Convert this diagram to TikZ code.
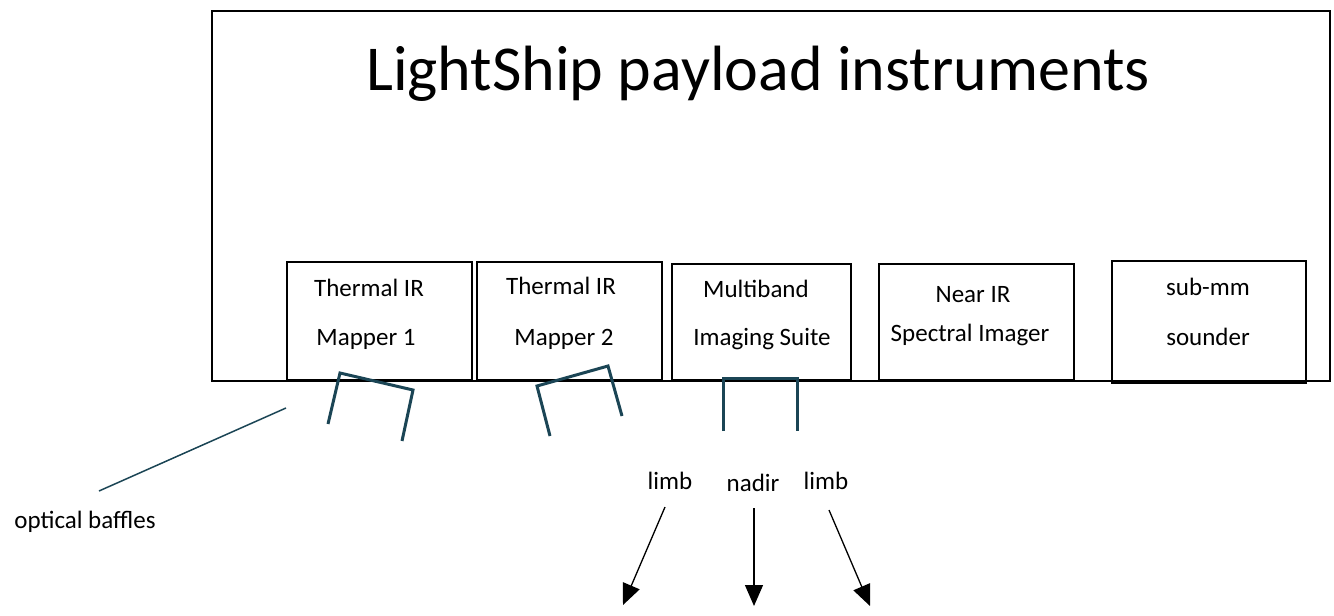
\documentclass[tikz,border=0pt]{standalone}
\usepackage{fontspec}
\setmainfont{Carlito}
\usetikzlibrary{arrows.meta}
\definecolor{baffle}{HTML}{1B4555}
\tikzset{
  inst/.style={draw=black, line width=1.8pt, anchor=north west, inner sep=0pt},
  boxtxt/.style={anchor=base, inner sep=0pt, font=\fontsize{25}{30}\selectfont},
  bafflepath/.style={draw=baffle, line width=3pt, line join=miter},
  view/.style={draw=black, line width=1.3pt, -{Triangle[length=21pt,width=18pt]}},
}
\begin{document}
\begin{tikzpicture}[x=1pt,y=-1pt]
\useasboundingbox (0,0) rectangle (1334,616);
% outer frame
\node[draw=black, line width=1.5pt, anchor=north west, minimum width=1118pt, minimum height=370pt, inner sep=0pt] (frame) at (211,10) {};
\node[anchor=base, inner sep=0pt, font=\fontsize{64}{70}\selectfont] (title) at (758,90) {LightShip payload instruments};
% instruments
\node[inst, minimum width=185pt, minimum height=118pt] (tir1) at (286,261) {};
\node[inst, minimum width=185pt, minimum height=118pt] (tir2) at (476,261) {};
\node[inst, minimum width=179pt, minimum height=116pt] (mis) at (671,263) {};
\node[inst, minimum width=195pt, minimum height=116pt] (nir) at (878,263) {};
\node[inst, minimum width=194pt, minimum height=122pt] (smm) at (1111,260) {};
\node[boxtxt] (t1a) at (369,296) {Thermal IR};
\node[boxtxt] (t1b) at (366,345) {Mapper 1};
\node[boxtxt] (t2a) at (561,294) {Thermal IR};
\node[boxtxt] (t2b) at (564,345) {Mapper 2};
\node[boxtxt] (t3a) at (756,297) {Multiband};
\node[boxtxt] (t3b) at (762,345) {Imaging Suite};
\node[boxtxt] (t4a) at (973,302) {Near IR};
\node[boxtxt] (t4b) at (970,341) {Spectral Imager};
\node[boxtxt] (t5a) at (1208,295) {sub-mm};
\node[boxtxt] (t5b) at (1208,345) {sounder};
% baffles
\draw[bafflepath] (328,424) -- (340,373) -- (413,390) -- (402,441);
\draw[bafflepath] (550,436) -- (537,386) -- (608,366) -- (622,416);
\draw[bafflepath] (723,431) -- (723,378) -- (797,378) -- (797,431);
% leader
\node[boxtxt] (ob) at (85,528) {optical baffles};
\coordinate (leadA) at (99,491);
\coordinate (leadB) at (286,408);
\draw[draw=baffle, line width=1.5pt] (leadA) -- (leadB);
% view directions
\node[boxtxt] (limbL) at (670,489) {limb};
\node[boxtxt] (nadir) at (753,491) {nadir};
\node[boxtxt] (limbR) at (826,489) {limb};
\coordinate (aL1) at (665,507);
\coordinate (aL2) at (623,605);
\coordinate (aN1) at (754,508);
\coordinate (aN2) at (754,606);
\coordinate (aR1) at (829,510);
\coordinate (aR2) at (870,606);
\draw[view] (aL1) -- (aL2);
\draw[view] (aN1) -- (aN2);
\draw[view] (aR1) -- (aR2);
\end{tikzpicture}
\end{document}
